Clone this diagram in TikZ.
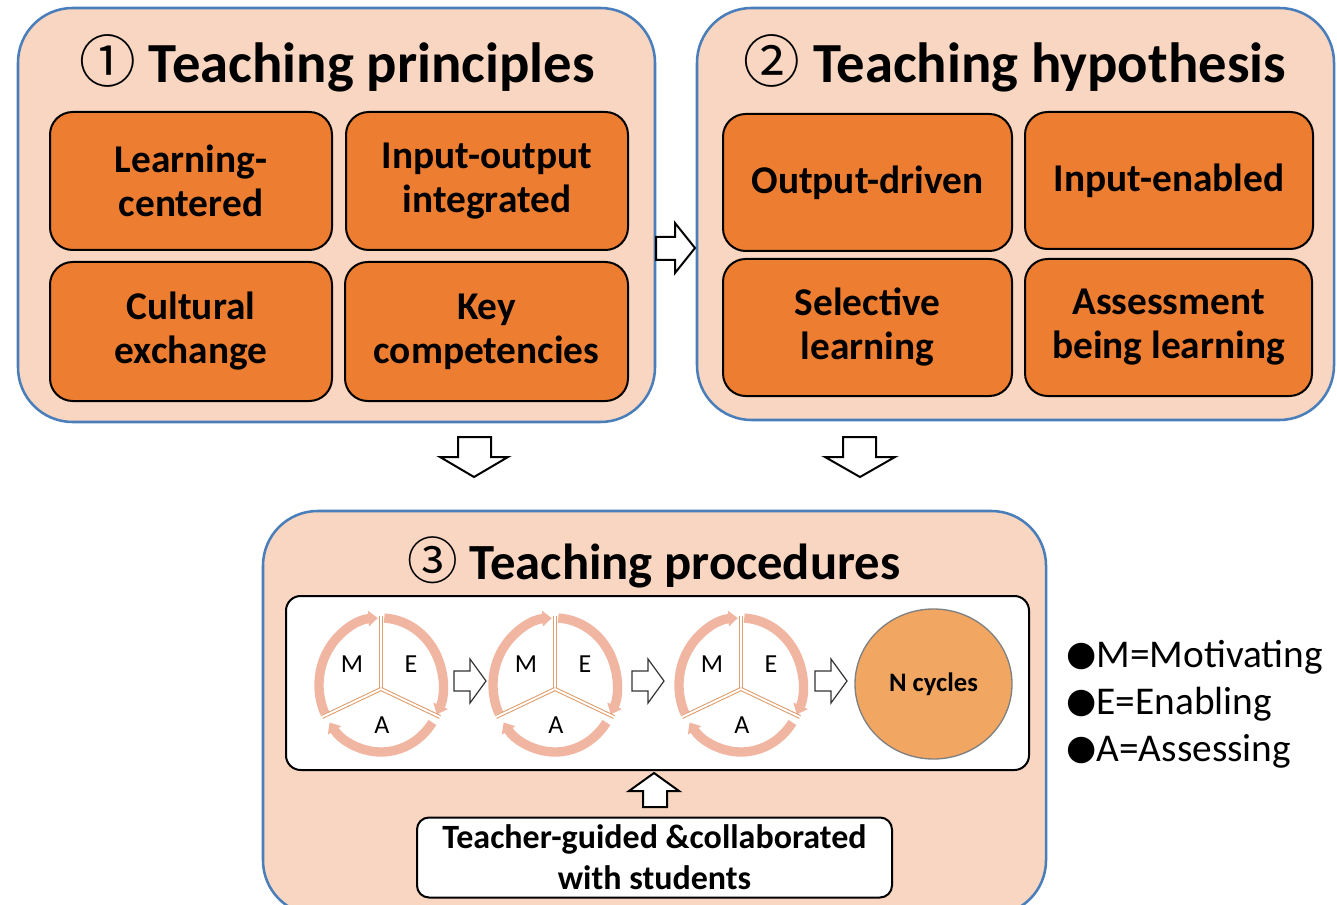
\documentclass[tikz,border=0pt]{standalone}
\usepackage{fontspec}
\setmainfont{Carlito}
\newfontfamily\cjkf{Noto Sans CJK SC}
\newfontfamily\djv{DejaVu Sans}
\usetikzlibrary{arrows.meta,shapes.geometric}
\definecolor{peach}{RGB}{248,214,193}
\definecolor{panelblue}{RGB}{74,126,187}
\definecolor{boxorange}{RGB}{237,125,49}
\definecolor{ncyc}{RGB}{241,167,98}
\definecolor{ringc}{RGB}{240,182,162}
\definecolor{divc}{RGB}{222,160,112}
\tikzset{
  panel/.style={draw=panelblue, line width=1.9pt, fill=peach, rounded corners=41pt, inner sep=0pt},
  obox/.style={draw=black, line width=1.5pt, fill=boxorange, rounded corners=17pt, align=center, inner sep=0pt,
    font=\fontsize{29.5}{33}\selectfont\bfseries},
  ttl/.style={font=\fontsize{42.5}{48}\selectfont\bfseries, inner sep=0pt},
  barrow/.style={draw=black, line width=1.5pt, fill=white, line join=miter},
  sarrow/.style={draw=black!80, line width=0.9pt, fill=white, line join=miter},
  ring/.style={draw=ringc, line width=7pt, -{Triangle[length=7pt,width=11.5pt]}},
  divider/.style={draw=divc, line width=0.8pt, double=white, double distance=1.4pt},
  letter/.style={font=\fontsize{19.5}{22}\selectfont, inner sep=0pt},
  legend/.style={font=\fontsize{29.5}{34}\selectfont, anchor=west, inner sep=0pt},
  mea/.pic={
    \draw[ring] (205:62 and 67) arc[start angle=205,end angle=93,x radius=62,y radius=67];
    \draw[ring] (87:62 and 67) arc[start angle=87,end angle=-26,x radius=62,y radius=67];
    \draw[ring] (-34:62 and 67) arc[start angle=-34,end angle=-146,x radius=62,y radius=67];
    \draw[divider] (0,-4) -- (0,69);
    \draw[divider] (0,-4) -- (-59,-32);
    \draw[divider] (0,-4) -- (59,-32);
    \node[letter] (-M) at (-29,21) {M};
    \node[letter] (-E) at (30,21) {E};
    \node[letter] (-A) at (1,-40) {A};
  }
}
\newcommand{\blt}{{\djv\fontsize{26}{26}\selectfont\raisebox{1pt}{●}}}
\begin{document}
\begin{tikzpicture}[x=0.75pt,y=0.75pt]
\useasboundingbox (0,0) rectangle (1337,-905);
\fill[white] (0,0) rectangle (1337,-905);

% panels
\node[panel, minimum width=637*0.75pt, minimum height=414*0.75pt] (p1) at (336.5,-215) {};
\node[panel, minimum width=637*0.75pt, minimum height=412*0.75pt] (p2) at (1015.5,-214) {};
\begin{scope}
\clip (0,0) rectangle (1337,-905);
\node[panel, minimum width=783*0.75pt, minimum height=404*0.75pt] (p3) at (654.5,-713) {};
\end{scope}

% titles
\node[ttl] (t1) at (337,-63) {{\cjkf\mdseries ①} Teaching principles};
\node[ttl] (t2) at (1015,-63) {{\cjkf\mdseries ②} Teaching hypothesis};
\node[ttl, font=\fontsize{38}{44}\selectfont\bfseries] (t3) at (654,-562) {{\cjkf\mdseries ③} Teaching procedures};

% panel 1 boxes
\node[obox, minimum width=282*0.75pt, minimum height=138*0.75pt] (b11) at (191,-181) {Learning-\\centered};
\node[obox, minimum width=282*0.75pt, minimum height=138*0.75pt] (b12) at (487,-181) {Input-output\\integrated};
\node[obox, minimum width=282*0.75pt, minimum height=139*0.75pt] (b13) at (191,-331.5) {Cultural\\exchange};
\node[obox, minimum width=283*0.75pt, minimum height=139*0.75pt] (b14) at (486.5,-331.5) {Key\\competencies};

% panel 2 boxes
\node[obox, minimum width=289*0.75pt, minimum height=137*0.75pt] (b21) at (867.5,-182.5) {Output-driven};
\node[obox, minimum width=288*0.75pt, minimum height=137*0.75pt] (b22) at (1169,-180.5) {Input-enabled};
\node[obox, minimum width=289*0.75pt, minimum height=137*0.75pt] (b23) at (867.5,-327.5) {Selective\\learning};
\node[obox, minimum width=287*0.75pt, minimum height=137*0.75pt] (b24) at (1168.5,-327.5) {Assessment\\being learning};

% block arrows between panels
\draw[barrow] (656,-237) -- (675,-237) -- (675,-223) -- (695,-248) -- (675,-273) -- (675,-260) -- (656,-260) -- cycle;
\draw[barrow] (458,-437) -- (491,-437) -- (491,-457) -- (508,-457) -- (474,-477) -- (440,-457) -- (458,-457) -- cycle;
\draw[barrow] (843,-437) -- (876,-437) -- (876,-457) -- (895,-457) -- (860,-477) -- (825,-457) -- (843,-457) -- cycle;

% inner white box
\node[draw=black, line width=1.5pt, fill=white, rounded corners=11pt, minimum width=743*0.75pt, minimum height=174*0.75pt, inner sep=0pt] (wb) at (657.5,-683) {};

% cycles
\pic (c1) at (381,-685) {mea};
\pic (c2) at (555,-685) {mea};
\pic (c3) at (741,-685) {mea};

\node[ellipse, draw=black!50, line width=1pt, fill=ncyc, minimum width=157*0.75pt, minimum height=150*0.75pt, inner sep=0pt,
  font=\fontsize{20}{22}\selectfont\bfseries] (nc) at (933.5,-684) {N cycles};

% small arrows
\foreach \dx in {0,178,361}{
  \draw[sarrow, shift={(\dx,0)}] (454,-671) -- (470,-671) -- (470,-659) -- (486,-681) -- (470,-703) -- (470,-691) -- (454,-691) -- cycle;
}

% up arrow
\draw[barrow] (643,-807) -- (667,-807) -- (667,-791) -- (679,-791) -- (654,-773) -- (629,-791) -- (643,-791) -- cycle;

% bottom box
\node[draw=black, line width=1.5pt, fill=white, rounded corners=9pt, minimum width=475*0.75pt, minimum height=80*0.75pt, inner sep=0pt,
  align=center, font=\fontsize{25.5}{31}\selectfont\bfseries] (tg) at (654.5,-857.5) {Teacher-guided \&collaborated\\with students};

% legend
\node[legend] (l1) at (1066,-657) {\blt M=Motivating};
\node[legend] (l2) at (1066,-704) {\blt E=Enabling};
\node[legend] (l3) at (1066,-751) {\blt A=Assessing};
\end{tikzpicture}
\end{document}
